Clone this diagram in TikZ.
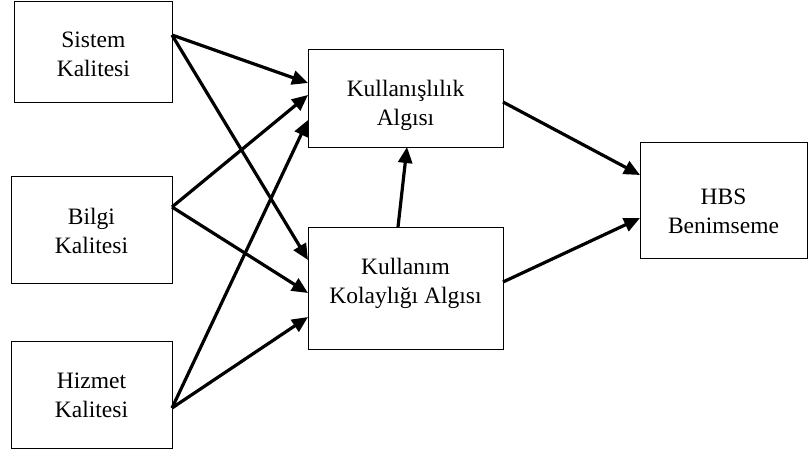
\documentclass[tikz,border=0pt]{standalone}
\usepackage{fontspec}
\setmainfont{Liberation Serif}
\usetikzlibrary{arrows.meta}
\begin{document}
\begin{tikzpicture}[x=1pt,y=1pt,
  box/.style={draw=black, line width=0.9pt, rectangle, inner sep=0pt, outer sep=0pt},
  txt/.style={inner sep=0pt, align=center, font=\fontsize{23.5}{29}\selectfont},
  arr/.style={line width=3.2pt, -{Triangle[length=16pt,width=14pt]}}]
\useasboundingbox (0,0) rectangle (808,-452);
\node[box, minimum width=157.3pt, minimum height=101pt] (sk) at (93.35,-51.5) {};
\node[box, minimum width=161pt, minimum height=107pt] (bk) at (91.5,-229.5) {};
\node[box, minimum width=161pt, minimum height=107pt] (hk) at (91.5,-394.5) {};
\node[box, minimum width=195pt, minimum height=98pt] (ka) at (405.5,-98) {};
\node[box, minimum width=195pt, minimum height=122pt] (kk) at (405.5,-288) {};
\node[box, minimum width=167pt, minimum height=116pt] (hbs) at (723.5,-200) {};
\node[txt] (skt) at ([yshift=-3pt]sk.center) {Sistem\\Kalitesi};
\node[txt] (bkt) at ([yshift=-1pt]bk.center) {Bilgi\\Kalitesi};
\node[txt] (hkt) at ([yshift=-1pt]hk.center) {Hizmet\\Kalitesi};
\node[txt] (kat) at ([yshift=-7pt]ka.center) {Kullanışlılık\\Algısı};
\node[txt] (kkt) at ([yshift=5pt]kk.center) {Kullanım\\Kolaylığı Algısı};
\node[txt] (hbst) at ([yshift=-11pt]hbs.center) {HBS\\Benimseme};
\draw[arr] ([yshift=16.5pt]sk.east) -- ([yshift=15pt]ka.west);
\draw[arr] ([yshift=16.5pt]sk.east) -- ([yshift=28pt]kk.west);
\draw[arr] ([yshift=22.5pt]bk.east) -- ([yshift=3pt]ka.west);
\draw[arr] ([yshift=22.5pt]bk.east) -- ([yshift=-5pt]kk.west);
\draw[arr] ([yshift=-13.5pt]hk.east) -- ([yshift=-22pt]ka.west);
\draw[arr] ([yshift=-13.5pt]hk.east) -- ([yshift=-29pt]kk.west);
\draw[arr] ([xshift=-7.5pt]kk.north) -- ([xshift=1.5pt]ka.south);
\draw[arr] ([yshift=-4pt]ka.east) -- ([yshift=25pt]hbs.west);
\draw[arr] ([yshift=6pt]kk.east) -- ([yshift=-18pt]hbs.west);
\end{tikzpicture}
\end{document}
